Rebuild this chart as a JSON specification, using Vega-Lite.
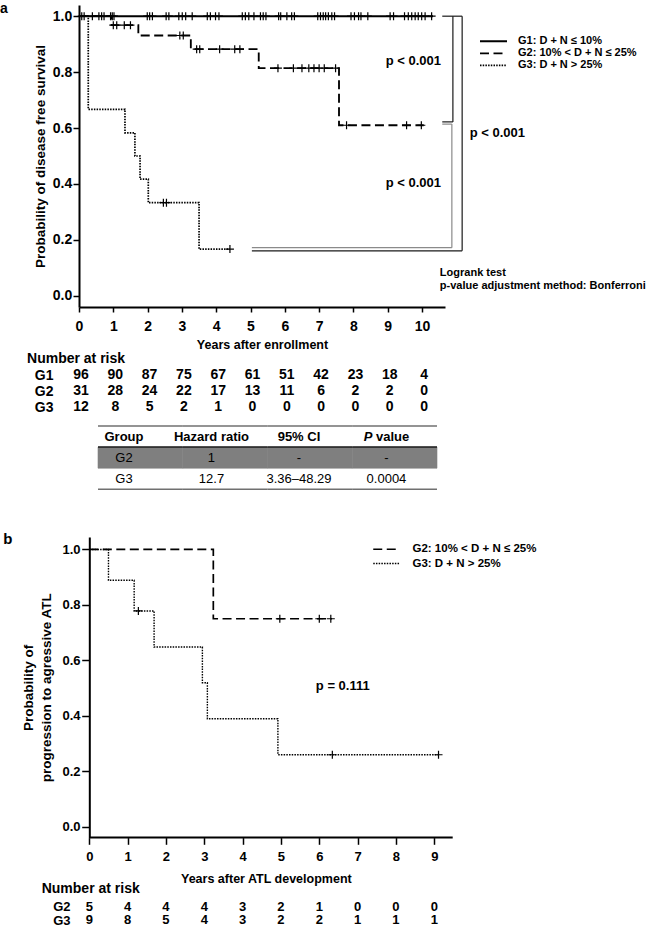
{
  "$schema": "https://vega.github.io/schema/vega-lite/v6.json",
  "background": "white",
  "padding": {"left": 0, "top": 2, "right": 0, "bottom": 0},
  "bounds": "flush",
  "spacing": 0,
  "config": {
    "font": "Liberation Sans",
    "view": {"stroke": null},
    "axis": {
      "grid": false,
      "labelFont": "Liberation Sans",
      "labelFontWeight": "bold",
      "labelColor": "black",
      "titleFont": "Liberation Sans",
      "titleFontWeight": "bold",
      "titleColor": "black",
      "domainColor": "black",
      "tickColor": "black",
      "labelOverlap": false,
      "labelFlush": false,
      "labelBound": false
    },
    "text": {"font": "Liberation Sans", "fontWeight": "bold", "color": "black"},
    "legend": {
      "labelFont": "Liberation Sans",
      "labelFontWeight": "bold",
      "labelColor": "black",
      "labelFontSize": 11.5,
      "symbolType": "M-6.75,0L6.75,0",
      "symbolSize": 16,
      "symbolStrokeWidth": 1.5,
      "symbolStrokeColor": "black",
      "symbolFillColor": "transparent",
      "padding": 0,
      "title": null
    }
  },
  "resolve": {
    "scale": {"x": "independent", "y": "independent", "strokeDash": "independent", "strokeWidth": "independent"},
    "legend": {"strokeDash": "independent"}
  },
  "datasets": {
    "survA": [
      {"g": "G1", "t": 0, "s": 1}, {"g": "G1", "t": 10.32, "s": 1},
      {"g": "G2", "t": 0, "s": 1}, {"g": "G2", "t": 0.95, "s": 0.968}, {"g": "G2", "t": 1.73, "s": 0.931},
      {"g": "G2", "t": 3.26, "s": 0.882}, {"g": "G2", "t": 5.24, "s": 0.814}, {"g": "G2", "t": 7.58, "s": 0.61},
      {"g": "G2", "t": 10.05, "s": 0.61},
      {"g": "G3", "t": 0, "s": 1}, {"g": "G3", "t": 0.27, "s": 0.667}, {"g": "G3", "t": 1.34, "s": 0.583},
      {"g": "G3", "t": 1.63, "s": 0.5}, {"g": "G3", "t": 1.78, "s": 0.417}, {"g": "G3", "t": 2.02, "s": 0.333},
      {"g": "G3", "t": 3.5, "s": 0.167}, {"g": "G3", "t": 4.4, "s": 0.167}
    ],
    "censA": [
      {"g": "G1", "t": 0.08, "s": 1}, {"g": "G1", "t": 0.15, "s": 1}, {"g": "G1", "t": 0.39, "s": 1},
      {"g": "G1", "t": 0.58, "s": 1}, {"g": "G1", "t": 0.66, "s": 1}, {"g": "G1", "t": 0.73, "s": 1},
      {"g": "G1", "t": 0.92, "s": 1}, {"g": "G1", "t": 0.97, "s": 1}, {"g": "G1", "t": 1.02, "s": 1},
      {"g": "G1", "t": 1.99, "s": 1}, {"g": "G1", "t": 2.06, "s": 1}, {"g": "G1", "t": 2.14, "s": 1},
      {"g": "G1", "t": 2.54, "s": 1}, {"g": "G1", "t": 2.62, "s": 1}, {"g": "G1", "t": 2.91, "s": 1},
      {"g": "G1", "t": 3.01, "s": 1}, {"g": "G1", "t": 3.11, "s": 1}, {"g": "G1", "t": 3.3, "s": 1},
      {"g": "G1", "t": 3.74, "s": 1}, {"g": "G1", "t": 3.83, "s": 1}, {"g": "G1", "t": 3.98, "s": 1},
      {"g": "G1", "t": 4.08, "s": 1}, {"g": "G1", "t": 4.76, "s": 1}, {"g": "G1", "t": 4.85, "s": 1},
      {"g": "G1", "t": 4.95, "s": 1}, {"g": "G1", "t": 5.1, "s": 1}, {"g": "G1", "t": 5.29, "s": 1},
      {"g": "G1", "t": 5.37, "s": 1}, {"g": "G1", "t": 5.45, "s": 1}, {"g": "G1", "t": 5.82, "s": 1},
      {"g": "G1", "t": 5.88, "s": 1}, {"g": "G1", "t": 6.06, "s": 1}, {"g": "G1", "t": 6.2, "s": 1},
      {"g": "G1", "t": 6.28, "s": 1}, {"g": "G1", "t": 6.96, "s": 1}, {"g": "G1", "t": 7.04, "s": 1},
      {"g": "G1", "t": 7.12, "s": 1}, {"g": "G1", "t": 7.19, "s": 1}, {"g": "G1", "t": 7.27, "s": 1},
      {"g": "G1", "t": 7.37, "s": 1}, {"g": "G1", "t": 7.45, "s": 1}, {"g": "G1", "t": 7.93, "s": 1},
      {"g": "G1", "t": 8.03, "s": 1}, {"g": "G1", "t": 8.15, "s": 1}, {"g": "G1", "t": 8.22, "s": 1},
      {"g": "G1", "t": 8.42, "s": 1}, {"g": "G1", "t": 9.07, "s": 1}, {"g": "G1", "t": 9.17, "s": 1},
      {"g": "G1", "t": 9.49, "s": 1}, {"g": "G1", "t": 9.6, "s": 1}, {"g": "G1", "t": 9.7, "s": 1},
      {"g": "G1", "t": 9.8, "s": 1}, {"g": "G1", "t": 9.89, "s": 1}, {"g": "G1", "t": 9.99, "s": 1},
      {"g": "G1", "t": 10.09, "s": 1}, {"g": "G1", "t": 10.28, "s": 1},
      {"g": "G2", "t": 1.0, "s": 0.968}, {"g": "G2", "t": 1.1, "s": 0.968}, {"g": "G2", "t": 1.32, "s": 0.968},
      {"g": "G2", "t": 1.5, "s": 0.968}, {"g": "G2", "t": 2.94, "s": 0.931}, {"g": "G2", "t": 3.04, "s": 0.931},
      {"g": "G2", "t": 3.43, "s": 0.882}, {"g": "G2", "t": 3.52, "s": 0.882}, {"g": "G2", "t": 4.1, "s": 0.882},
      {"g": "G2", "t": 4.54, "s": 0.882}, {"g": "G2", "t": 4.69, "s": 0.882},
      {"g": "G2", "t": 5.8, "s": 0.814}, {"g": "G2", "t": 6.25, "s": 0.814}, {"g": "G2", "t": 6.5, "s": 0.814},
      {"g": "G2", "t": 6.7, "s": 0.814}, {"g": "G2", "t": 6.85, "s": 0.814}, {"g": "G2", "t": 7.0, "s": 0.814},
      {"g": "G2", "t": 7.15, "s": 0.814}, {"g": "G2", "t": 7.48, "s": 0.814},
      {"g": "G2", "t": 7.8, "s": 0.61}, {"g": "G2", "t": 9.55, "s": 0.61}, {"g": "G2", "t": 9.98, "s": 0.61},
      {"g": "G3", "t": 2.46, "s": 0.333}, {"g": "G3", "t": 2.55, "s": 0.333}, {"g": "G3", "t": 4.4, "s": 0.167}
    ],
    "brackets": [
      {"pair": "G1 vs G3", "x1": 10.59, "x2": 11.17, "y1": 1, "y2": 1},
      {"pair": "G1 vs G3", "x1": 11.17, "x2": 11.17, "y1": 1, "y2": 0.161},
      {"pair": "G1 vs G3", "x1": 5.04, "x2": 11.17, "y1": 0.161, "y2": 0.161},
      {"pair": "G1 vs G2", "x1": 10.9, "x2": 10.9, "y1": 1, "y2": 0.622},
      {"pair": "G1 vs G2", "x1": 10.59, "x2": 10.9, "y1": 0.622, "y2": 0.622},
      {"pair": "G2 vs G3", "x1": 10.59, "x2": 10.87, "y1": 0.614, "y2": 0.614},
      {"pair": "G2 vs G3", "x1": 10.87, "x2": 10.87, "y1": 0.614, "y2": 0.172},
      {"pair": "G2 vs G3", "x1": 5.04, "x2": 10.87, "y1": 0.172, "y2": 0.172}
    ],
    "pvalsA": [
      {"t": 8.94, "s": 0.839, "label": "p < 0.001"},
      {"t": 11.39, "s": 0.582, "label": "p < 0.001"},
      {"t": 8.94, "s": 0.404, "label": "p < 0.001"}
    ],
    "noteA": [
      {"t": 10.52, "s": 0.081, "label": "Logrank test"},
      {"t": 10.52, "s": 0.036, "label": "p-value adjustment method: Bonferroni"}
    ],
    "riskA": [
      {"group": "G1", "year": 0, "n": 96}, {"group": "G1", "year": 1, "n": 90}, {"group": "G1", "year": 2, "n": 87},
      {"group": "G1", "year": 3, "n": 75}, {"group": "G1", "year": 4, "n": 67}, {"group": "G1", "year": 5, "n": 61},
      {"group": "G1", "year": 6, "n": 51}, {"group": "G1", "year": 7, "n": 42}, {"group": "G1", "year": 8, "n": 23},
      {"group": "G1", "year": 9, "n": 18}, {"group": "G1", "year": 10, "n": 4},
      {"group": "G2", "year": 0, "n": 31}, {"group": "G2", "year": 1, "n": 28}, {"group": "G2", "year": 2, "n": 24},
      {"group": "G2", "year": 3, "n": 22}, {"group": "G2", "year": 4, "n": 17}, {"group": "G2", "year": 5, "n": 13},
      {"group": "G2", "year": 6, "n": 11}, {"group": "G2", "year": 7, "n": 6}, {"group": "G2", "year": 8, "n": 2},
      {"group": "G2", "year": 9, "n": 2}, {"group": "G2", "year": 10, "n": 0},
      {"group": "G3", "year": 0, "n": 12}, {"group": "G3", "year": 1, "n": 8}, {"group": "G3", "year": 2, "n": 5},
      {"group": "G3", "year": 3, "n": 2}, {"group": "G3", "year": 4, "n": 1}, {"group": "G3", "year": 5, "n": 0},
      {"group": "G3", "year": 6, "n": 0}, {"group": "G3", "year": 7, "n": 0}, {"group": "G3", "year": 8, "n": 0},
      {"group": "G3", "year": 9, "n": 0}, {"group": "G3", "year": 10, "n": 0}
    ],
    "hrTable": [
      {"row": "head", "col": "Group", "text": "Group"},
      {"row": "head", "col": "Hazard ratio", "text": "Hazard ratio"},
      {"row": "head", "col": "95% CI", "text": "95% CI"},
      {"row": "head", "col": "P value", "text": "P value"},
      {"row": "G2", "col": "Group", "text": "G2"},
      {"row": "G2", "col": "Hazard ratio", "text": "1"},
      {"row": "G2", "col": "95% CI", "text": "-"},
      {"row": "G2", "col": "P value", "text": "-"},
      {"row": "G3", "col": "Group", "text": "G3"},
      {"row": "G3", "col": "Hazard ratio", "text": "12.7"},
      {"row": "G3", "col": "95% CI", "text": "3.36–48.29"},
      {"row": "G3", "col": "P value", "text": "0.0004"}
    ],
    "survB": [
      {"g": "G2", "t": 0, "s": 1}, {"g": "G2", "t": 3.235, "s": 0.75}, {"g": "G2", "t": 6.33, "s": 0.75},
      {"g": "G3", "t": 0, "s": 1}, {"g": "G3", "t": 0.5, "s": 0.889}, {"g": "G3", "t": 1.17, "s": 0.778},
      {"g": "G3", "t": 1.69, "s": 0.648}, {"g": "G3", "t": 2.95, "s": 0.519}, {"g": "G3", "t": 3.08, "s": 0.389},
      {"g": "G3", "t": 4.92, "s": 0.259}, {"g": "G3", "t": 9.11, "s": 0.259}
    ],
    "censB": [
      {"g": "G2", "t": 4.97, "s": 0.75}, {"g": "G2", "t": 6.0, "s": 0.75}, {"g": "G2", "t": 6.3, "s": 0.75},
      {"g": "G3", "t": 1.28, "s": 0.778}, {"g": "G3", "t": 6.34, "s": 0.259}, {"g": "G3", "t": 9.11, "s": 0.259}
    ],
    "riskB": [
      {"group": "G2", "year": 0, "n": 5}, {"group": "G2", "year": 1, "n": 4}, {"group": "G2", "year": 2, "n": 4},
      {"group": "G2", "year": 3, "n": 4}, {"group": "G2", "year": 4, "n": 3}, {"group": "G2", "year": 5, "n": 2},
      {"group": "G2", "year": 6, "n": 1}, {"group": "G2", "year": 7, "n": 0}, {"group": "G2", "year": 8, "n": 0},
      {"group": "G2", "year": 9, "n": 0},
      {"group": "G3", "year": 0, "n": 9}, {"group": "G3", "year": 1, "n": 8}, {"group": "G3", "year": 2, "n": 5},
      {"group": "G3", "year": 3, "n": 4}, {"group": "G3", "year": 4, "n": 3}, {"group": "G3", "year": 5, "n": 2},
      {"group": "G3", "year": 6, "n": 2}, {"group": "G3", "year": 7, "n": 1}, {"group": "G3", "year": 8, "n": 1},
      {"group": "G3", "year": 9, "n": 1}
    ]
  },
  "vconcat": [
    {
      "width": 366,
      "height": 302,
      "layer": [
        {
          "data": {"name": "survA"},
          "mark": {"type": "line", "interpolate": "step-after", "color": "black"},
          "encoding": {
            "x": {
              "field": "t", "type": "quantitative",
              "scale": {"domain": [0, 10.67], "nice": false, "zero": false},
              "axis": {
                "values": [0, 1, 2, 3, 4, 5, 6, 7, 8, 9, 10], "tickCount": 11, "format": "d",
                "labelOverlap": false, "labelSeparation": 0,
                "title": "Years after enrollment", "titleFontSize": 12.5, "titlePadding": 5.5,
                "labelFontSize": 14, "labelPadding": 7, "tickSize": 5, "tickWidth": 1.5, "domainWidth": 2
              }
            },
            "y": {
              "field": "s", "type": "quantitative",
              "scale": {"domain": [-0.04, 1.04], "nice": false, "zero": false},
              "axis": {
                "values": [0, 0.2, 0.4, 0.6, 0.8, 1], "format": ".1f", "labelOverlap": false,
                "title": "Probability of disease free survival", "titleFontSize": 13.5, "titlePadding": 5,
                "labelFontSize": 14, "labelPadding": 1.3, "tickSize": 6, "tickWidth": 1.5, "domainWidth": 2
              }
            },
            "strokeDash": {
              "field": "g", "type": "nominal",
              "scale": {"domain": ["G1", "G2", "G3"], "range": [[1, 0], [9, 4.5], [1.5, 1.2]]},
              "legend": {
                "orient": "none", "legendX": 409, "legendY": 30.8, "rowPadding": 0,
                "labelFontSize": 11, "labelOffset": 19,
                "labelExpr": "datum.label == 'G1' ? 'G1: D + N ≤ 10%' : datum.label == 'G2' ? 'G2: 10% < D + N ≤ 25%' : 'G3: D + N > 25%'"
              }
            },
            "strokeWidth": {
              "field": "g", "type": "nominal",
              "scale": {"domain": ["G1", "G2", "G3"], "range": [2, 1.7, 1.4]},
              "legend": null
            }
          }
        },
        {
          "data": {"name": "censA"},
          "mark": {"type": "point", "shape": "M-1,0L1,0M0,-1L0,1", "filled": false, "stroke": "black", "strokeWidth": 1.2, "size": 64, "opacity": 1},
          "encoding": {
            "x": {"field": "t", "type": "quantitative"},
            "y": {"field": "s", "type": "quantitative"}
          }
        },
        {
          "data": {"name": "brackets"},
          "transform": [{"filter": "datum.pair != 'G2 vs G3'"}],
          "mark": {"type": "rule", "color": "#1a1a1a", "strokeWidth": 1.2},
          "encoding": {
            "x": {"field": "x1", "type": "quantitative"}, "x2": {"field": "x2"},
            "y": {"field": "y1", "type": "quantitative"}, "y2": {"field": "y2"}
          }
        },
        {
          "data": {"name": "brackets"},
          "transform": [{"filter": "datum.pair == 'G2 vs G3'"}],
          "mark": {"type": "rule", "color": "#8a8a8a", "strokeWidth": 1.2},
          "encoding": {
            "x": {"field": "x1", "type": "quantitative"}, "x2": {"field": "x2"},
            "y": {"field": "y1", "type": "quantitative"}, "y2": {"field": "y2"}
          }
        },
        {
          "data": {"name": "pvalsA"},
          "mark": {"type": "text", "align": "left", "baseline": "middle", "fontSize": 13},
          "encoding": {
            "x": {"field": "t", "type": "quantitative"},
            "y": {"field": "s", "type": "quantitative"},
            "text": {"field": "label"}
          }
        },
        {
          "data": {"name": "noteA"},
          "mark": {"type": "text", "align": "left", "baseline": "middle", "fontSize": 11},
          "encoding": {
            "x": {"field": "t", "type": "quantitative"},
            "y": {"field": "s", "type": "quantitative"},
            "text": {"field": "label"}
          }
        },
        {
          "data": {"values": [{"label": "a", "t": -2.301, "s": 1.0497}]},
          "mark": {"type": "text", "align": "left", "baseline": "top", "fontSize": 14},
          "encoding": {
            "x": {"field": "t", "type": "quantitative"},
            "y": {"field": "s", "type": "quantitative"},
            "text": {"field": "label"}
          }
        }
      ]
    },
    {
      "width": 366,
      "height": 119,
      "layer": [
        {
          "data": {"name": "riskA"},
          "mark": {"type": "text", "fontSize": 14, "dx": 2, "baseline": "middle"},
          "encoding": {
            "x": {"field": "year", "type": "quantitative", "scale": {"domain": [0, 10.67], "nice": false, "zero": false}, "axis": null},
            "y": {
              "field": "group", "type": "nominal",
              "scale": {"domain": ["hdr", "G1", "G2", "G3"], "range": [44.3, 108.3], "paddingInner": 0, "paddingOuter": 0},
              "axis": {"values": ["G1", "G2", "G3"], "title": null, "domain": false, "ticks": false, "tickSize": 0, "labelFontSize": 14, "labelPadding": 26}
            },
            "text": {"field": "n", "type": "quantitative"}
          }
        },
        {
          "data": {"values": [{"label": "Number at risk", "t": -1.515, "row": "hdr"}]},
          "mark": {"type": "text", "fontSize": 14, "align": "left", "baseline": "middle"},
          "encoding": {
            "x": {"field": "t", "type": "quantitative"},
            "y": {"field": "row", "type": "nominal"},
            "text": {"field": "label"}
          }
        }
      ]
    },
    {
      "width": 366,
      "height": 111,
      "data": {"name": "hrTable"},
      "resolve": {"scale": {"x": "independent"}},
      "layer": [
        {
          "transform": [{"filter": "datum.row == 'G2'"}],
          "mark": {"type": "rect", "color": "#7f7f7f", "stroke": "#7f7f7f", "strokeWidth": 0.6},
          "encoding": {
            "x": {"field": "col", "type": "nominal", "sort": null, "scale": {"domain": ["Group", "Hazard ratio", "95% CI", "P value"], "range": [19, 358], "paddingInner": 0, "paddingOuter": 0}, "axis": null},
            "y": {"field": "row", "type": "nominal", "scale": {"domain": ["head", "G2", "G3"], "range": [0, 63.3], "paddingInner": 0, "paddingOuter": 0}, "axis": null}
          }
        },
        {
          "transform": [{"filter": "datum.row == 'head'"}],
          "mark": {"type": "tick", "orient": "horizontal", "size": 84.75, "thickness": 1.4, "color": "#333"},
          "encoding": {
            "x": {"field": "col", "type": "nominal", "scale": {"domain": ["Group", "Hazard ratio", "95% CI", "P value"], "range": [19, 358], "paddingInner": 0, "paddingOuter": 0}, "axis": null},
            "y": {"field": "row", "type": "nominal", "bandPosition": 0, "scale": {"domain": ["head", "G2", "G3"], "range": [0, 63.3], "paddingInner": 0, "paddingOuter": 0}, "axis": null}
          }
        },
        {
          "transform": [{"filter": "datum.row == 'G2'"}],
          "mark": {"type": "tick", "orient": "horizontal", "size": 84.75, "thickness": 2, "color": "#111"},
          "encoding": {
            "x": {"field": "col", "type": "nominal", "scale": {"domain": ["Group", "Hazard ratio", "95% CI", "P value"], "range": [19, 358], "paddingInner": 0, "paddingOuter": 0}, "axis": null},
            "y": {"field": "row", "type": "nominal", "bandPosition": 0, "scale": {"domain": ["head", "G2", "G3"], "range": [0, 63.3], "paddingInner": 0, "paddingOuter": 0}, "axis": null}
          }
        },
        {
          "transform": [{"filter": "datum.row == 'G3'"}],
          "mark": {"type": "tick", "orient": "horizontal", "size": 84.75, "thickness": 1.6, "color": "#333"},
          "encoding": {
            "x": {"field": "col", "type": "nominal", "scale": {"domain": ["Group", "Hazard ratio", "95% CI", "P value"], "range": [19, 358], "paddingInner": 0, "paddingOuter": 0}, "axis": null},
            "y": {"field": "row", "type": "nominal", "bandPosition": 1, "scale": {"domain": ["head", "G2", "G3"], "range": [0, 63.3], "paddingInner": 0, "paddingOuter": 0}, "axis": null}
          }
        },
        {
          "transform": [{"filter": "datum.row == 'head' && datum.col != 'P value'"}],
          "mark": {"type": "text", "fontSize": 13, "baseline": "middle"},
          "encoding": {
            "x": {"field": "col", "type": "nominal", "scale": {"domain": ["Group", "Hazard ratio", "95% CI", "P value"], "range": [1.25, 351.2], "paddingInner": 0, "paddingOuter": 0}, "axis": null},
            "y": {"field": "row", "type": "nominal", "scale": {"domain": ["head", "G2", "G3"], "range": [0, 63.3], "paddingInner": 0, "paddingOuter": 0}, "axis": null},
            "text": {"field": "text"}
          }
        },
        {
          "transform": [{"filter": "datum.row == 'head' && datum.col == 'P value'"}],
          "mark": {"type": "text", "fontSize": 13, "baseline": "middle", "align": "left", "fontStyle": "italic", "dx": -22.8, "text": "P"},
          "encoding": {
            "x": {"field": "col", "type": "nominal", "scale": {"domain": ["Group", "Hazard ratio", "95% CI", "P value"], "range": [1.25, 351.2], "paddingInner": 0, "paddingOuter": 0}, "axis": null},
            "y": {"field": "row", "type": "nominal", "scale": {"domain": ["head", "G2", "G3"], "range": [0, 63.3], "paddingInner": 0, "paddingOuter": 0}, "axis": null}
          }
        },
        {
          "transform": [{"filter": "datum.row == 'head' && datum.col == 'P value'"}],
          "mark": {"type": "text", "fontSize": 13, "baseline": "middle", "align": "left", "dx": -10.5, "text": "value"},
          "encoding": {
            "x": {"field": "col", "type": "nominal", "scale": {"domain": ["Group", "Hazard ratio", "95% CI", "P value"], "range": [1.25, 351.2], "paddingInner": 0, "paddingOuter": 0}, "axis": null},
            "y": {"field": "row", "type": "nominal", "scale": {"domain": ["head", "G2", "G3"], "range": [0, 63.3], "paddingInner": 0, "paddingOuter": 0}, "axis": null}
          }
        },
        {
          "transform": [{"filter": "datum.row != 'head'"}],
          "mark": {"type": "text", "fontSize": 13, "baseline": "middle", "fontWeight": "normal"},
          "encoding": {
            "x": {"field": "col", "type": "nominal", "scale": {"domain": ["Group", "Hazard ratio", "95% CI", "P value"], "range": [1.25, 351.2], "paddingInner": 0, "paddingOuter": 0}, "axis": null},
            "y": {"field": "row", "type": "nominal", "scale": {"domain": ["head", "G2", "G3"], "range": [0, 63.3], "paddingInner": 0, "paddingOuter": 0}, "axis": null},
            "text": {"field": "text"}
          }
        }
      ]
    },
    {
      "width": 373.7,
      "height": 300.6,
      "layer": [
        {
          "data": {"name": "survB"},
          "mark": {"type": "line", "interpolate": "step-after", "color": "black"},
          "encoding": {
            "x": {
              "field": "t", "type": "quantitative",
              "scale": {"domain": [-0.269, 9.48], "nice": false, "zero": false},
              "axis": {
                "values": [0, 1, 2, 3, 4, 5, 6, 7, 8, 9], "format": "d", "domain": false, "labelOverlap": false,
                "title": "Years after ATL development", "titleFontSize": 12.5, "titlePadding": 9,
                "labelFontSize": 13, "labelPadding": 6.2, "tickSize": 6.7, "tickWidth": 1.5
              }
            },
            "y": {
              "field": "s", "type": "quantitative",
              "scale": {"domain": [-0.04, 1.045], "nice": false, "zero": false},
              "axis": {
                "values": [0, 0.2, 0.4, 0.6, 0.8, 1], "format": ".1f", "offset": -10.31, "labelOverlap": false,
                "title": ["Probability of", "progression to agressive ATL"], "titleFontSize": 13.5, "titleLineHeight": 18, "titlePadding": 8,
                "labelFontSize": 13, "labelPadding": 1.7, "tickSize": 7.6, "tickWidth": 1.5, "domainWidth": 2
              }
            },
            "strokeDash": {
              "field": "g", "type": "nominal",
              "scale": {"domain": ["G2", "G3"], "range": [[9, 4.5], [1.5, 1.2]]},
              "legend": {
                "orient": "none", "legendX": 302, "legendY": 6.5, "rowPadding": 1.3,
                "labelFontSize": 11.5, "labelOffset": 20,
                "labelExpr": "datum.label == 'G2' ? 'G2: 10% < D + N ≤ 25%' : 'G3: D + N > 25%'"
              }
            },
            "strokeWidth": {
              "field": "g", "type": "nominal",
              "scale": {"domain": ["G2", "G3"], "range": [1.7, 1.4]},
              "legend": null
            }
          }
        },
        {
          "data": {"name": "censB"},
          "mark": {"type": "point", "shape": "M-1,0L1,0M0,-1L0,1", "filled": false, "stroke": "black", "strokeWidth": 1.2, "size": 64, "opacity": 1},
          "encoding": {
            "x": {"field": "t", "type": "quantitative"},
            "y": {"field": "s", "type": "quantitative"}
          }
        },
        {
          "data": {"values": [{"from": 0, "to": 9.48, "base": -0.04}]},
          "mark": {"type": "rule", "color": "black", "strokeWidth": 2},
          "encoding": {
            "x": {"field": "from", "type": "quantitative"}, "x2": {"field": "to"},
            "y": {"field": "base", "type": "quantitative"}
          }
        },
        {
          "data": {"values": [{"label": "p = 0.111", "t": 5.91, "s": 0.508}]},
          "mark": {"type": "text", "align": "left", "baseline": "middle", "fontSize": 13},
          "encoding": {
            "x": {"field": "t", "type": "quantitative"},
            "y": {"field": "s", "type": "quantitative"},
            "text": {"field": "label"}
          }
        },
        {
          "data": {"values": [{"label": "b", "t": -2.244, "s": 1.021}]},
          "mark": {"type": "text", "align": "left", "baseline": "alphabetic", "fontSize": 15},
          "encoding": {
            "x": {"field": "t", "type": "quantitative"},
            "y": {"field": "s", "type": "quantitative"},
            "text": {"field": "label"}
          }
        }
      ]
    },
    {
      "width": 373.7,
      "height": 88.7,
      "layer": [
        {
          "data": {"name": "riskB"},
          "mark": {"type": "text", "fontSize": 13, "baseline": "middle"},
          "encoding": {
            "x": {"field": "year", "type": "quantitative", "scale": {"domain": [-0.269, 9.48], "nice": false, "zero": false}, "axis": null},
            "y": {
              "field": "group", "type": "nominal",
              "scale": {"domain": ["hdr", "G2", "G3"], "range": [48.45, 88.95], "paddingInner": 0, "paddingOuter": 0},
              "axis": {"values": ["G2", "G3"], "title": null, "domain": false, "ticks": false, "tickSize": 0, "labelFontSize": 13, "labelPadding": 9}
            },
            "text": {"field": "n", "type": "quantitative"}
          }
        },
        {
          "data": {"values": [{"label": "Number at risk", "t": -1.242, "row": "hdr"}]},
          "mark": {"type": "text", "fontSize": 14, "align": "left", "baseline": "middle", "dy": -3.8},
          "encoding": {
            "x": {"field": "t", "type": "quantitative"},
            "y": {"field": "row", "type": "nominal"},
            "text": {"field": "label"}
          }
        }
      ]
    }
  ]
}
